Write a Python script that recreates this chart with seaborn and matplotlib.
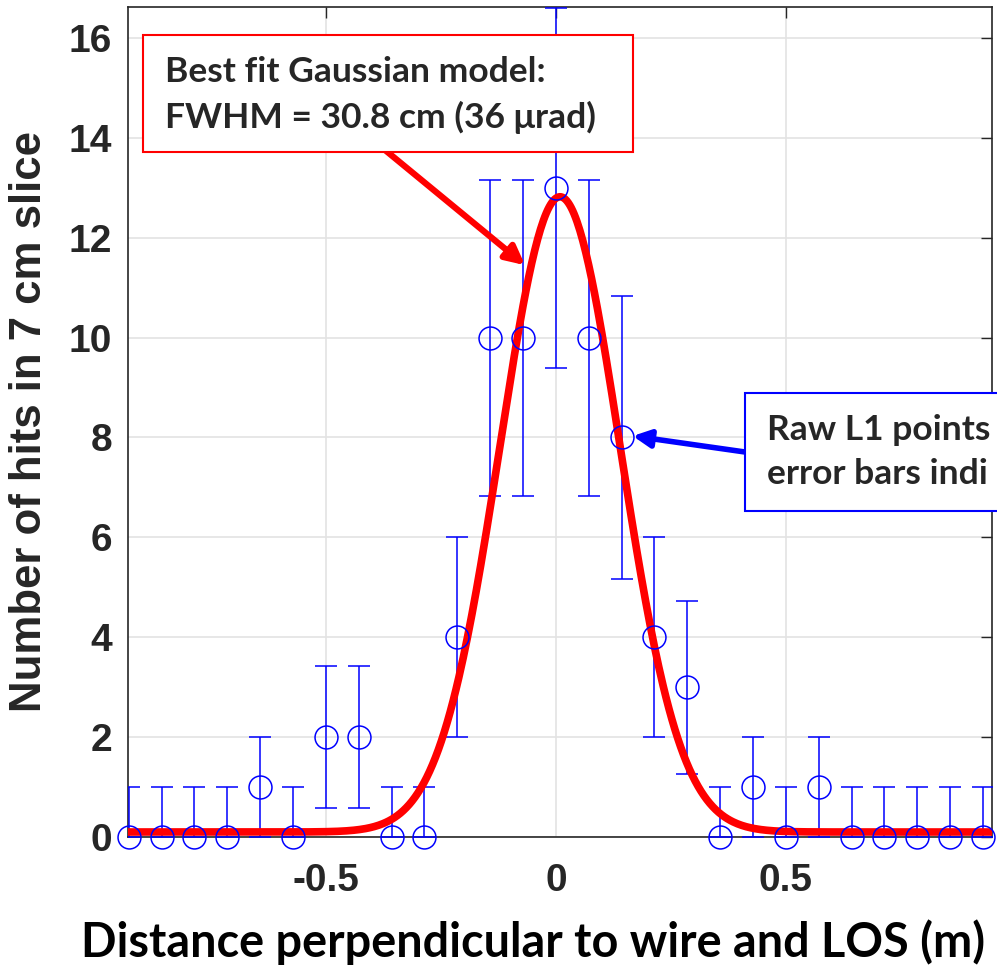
import numpy as np
import pandas as pd
import matplotlib
matplotlib.use("Agg")
import matplotlib.pyplot as plt
from matplotlib.patches import Rectangle
import seaborn as sns

# ---- data ----
bin_index = list(range(-13, 14))
bin_width = 1 / 14  # m
counts = [0, 0, 0, 0, 1, 0, 2, 2, 0, 0, 4, 10, 10, 13, 10, 8, 4, 3, 0, 1, 0, 1, 0, 0, 0, 0, 0]
# Gaussian model parameters
fit_amp = 12.72
fit_center = 0.009
fit_fwhm = 0.308
fit_base = 0.1
x_ticks = [-0.5, 0, 0.5]
x_tick_labels = ["-0.5", "0", "0.5"]
y_ticks = [0, 2, 4, 6, 8, 10, 12, 14, 16]

x = np.array(bin_index) * bin_width
y = np.array(counts, dtype=float)
err_up = np.where(y > 0, np.sqrt(y), 1.0)
err_lo = np.sqrt(y)
df = pd.DataFrame({"x": x, "y": y})

sigma = fit_fwhm / (2 * np.sqrt(2 * np.log(2)))
xf = np.linspace(-0.95, 0.95, 600)
yf = fit_base + fit_amp * np.exp(-(xf - fit_center) ** 2 / (2 * sigma ** 2))
dfit = pd.DataFrame({"x": xf, "y": yf})

sns.set_style("white")
W, H = 997, 968
fig = plt.figure(figsize=(W / 100, H / 100), dpi=100)
L, R, T, B = 128, 992, 7, 837
ax = fig.add_axes([L / W, 1 - B / H, (R - L) / W, (B - T) / H])

ax.set_xlim(-0.930, 0.948)
ax.set_ylim(0, 16.62)
ax.set_xticks(x_ticks)
ax.set_xticklabels(x_tick_labels)
ax.set_yticks(y_ticks)
ax.grid(True, color="#e3e3e3", lw=1.2)
ax.set_axisbelow(True)

ax.errorbar(x, y, yerr=[err_lo, err_up], fmt="none", ecolor="blue",
            elinewidth=1.1, capsize=8, capthick=1.1, zorder=3, clip_on=True)
sns.lineplot(data=dfit, x="x", y="y", ax=ax, color="red", lw=5.5, zorder=4)
ax.plot(df["x"], df["y"], "o", mfc="none", mec="blue", ms=16.5, mew=1.1,
        zorder=5, clip_on=False)

for s in ax.spines.values():
    s.set_color("#262626")
    s.set_linewidth(1.2)
    s.set_visible(True)
ax.tick_params(direction="in", length=8, width=1, color="#262626",
               top=True, right=True, labelsize=28, labelcolor="#262626")
ax.tick_params(axis="x", pad=19)
ax.tick_params(axis="y", pad=11.5)
for lab in ax.get_xticklabels() + ax.get_yticklabels():
    lab.set_fontfamily("Liberation Sans")
    lab.set_fontweight("bold")
ax.set_xlabel("")
ax.set_ylabel("")

fig.text(30 / W, 1 - 422 / H, "Number of hits in 7 cm slice", rotation=90,
         ha="center", va="center", fontsize=31.5, fontweight="bold",
         color="#262626", family="Liberation Sans")
fig.text(533 / W, 1 - 942 / H, "Distance perpendicular to wire and LOS (m)",
         ha="center", va="center", fontsize=33.7, fontweight="bold",
         color="black", family=["Lato", "DejaVu Sans"])

# annotation boxes
fig.patches.append(Rectangle((143 / W, 1 - 152 / H), (633 - 143) / W, (152 - 35) / H,
                             transform=fig.transFigure, fc="white", ec="red", lw=1.5, zorder=10))
fig.text(165 / W, 1 - 95 / H, "Best fit Gaussian model:\nFWHM = 30.8 cm (36 \u03bcrad)",
         ha="left", va="center", fontsize=25.5, fontweight="bold", linespacing=1.45,
         family=["Lato", "DejaVu Sans"], zorder=11)
fig.patches.append(Rectangle((745 / W, 1 - 511 / H), 400 / W, (511 - 393) / H,
                             transform=fig.transFigure, fc="white", ec="blue", lw=1.5, zorder=10))
fig.text(767 / W, 1 - 452 / H, "Raw L1 points\nerror bars indi",
         ha="left", va="center", fontsize=25.5, fontweight="bold", linespacing=1.45,
         family=["Lato", "DejaVu Sans"], zorder=11)

ax.annotate("", xy=(-0.067, 11.45), xycoords="data",
            xytext=(385 / W, 1 - 150 / H), textcoords="figure fraction",
            arrowprops=dict(arrowstyle="-|>", color="red", lw=4.5, mutation_scale=28,
                            shrinkA=0, shrinkB=0), zorder=9)
ax.annotate("", xy=(0.167, 8.03), xycoords="data",
            xytext=(745 / W, 1 - 452 / H), textcoords="figure fraction",
            arrowprops=dict(arrowstyle="-|>", color="blue", lw=4, mutation_scale=26,
                            shrinkA=0, shrinkB=0), zorder=9)

fig.savefig("out.png", dpi=100)
